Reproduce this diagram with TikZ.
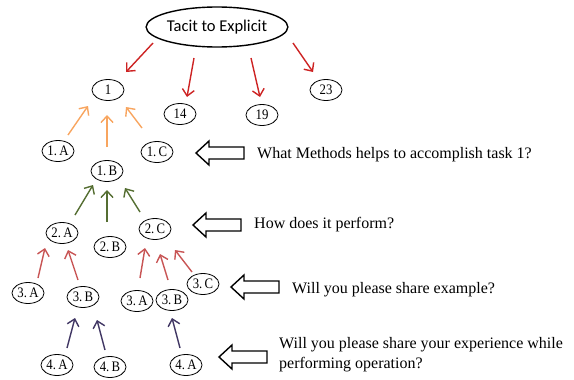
\documentclass[tikz,border=0pt]{standalone}
\usepackage{fontspec}
\setmainfont{Liberation Serif}
\newfontfamily\calib{Carlito}
\newfontfamily\nodefont[FakeStretch=0.88]{Liberation Serif}
\usetikzlibrary{arrows.meta,shapes.geometric,calc}
\definecolor{topred}{RGB}{205,35,35}
\definecolor{orng}{RGB}{248,165,95}
\definecolor{grn}{RGB}{85,110,50}
\definecolor{mred}{RGB}{200,85,85}
\definecolor{purp}{RGB}{65,55,100}
\begin{document}
\begin{tikzpicture}[x=1pt,y=-1pt,
  nd/.style={ellipse, draw, line width=0.8pt, minimum width=32pt, minimum height=21pt, inner sep=0pt, font=\nodefont\fontsize{14.5}{14.5}\selectfont},
  con/.style={line width=1.4pt, -{Straight Barb[length=6.5pt,width=12pt]}},
  qtext/.style={anchor=west, inner sep=0pt, font=\fontsize{16}{20}\selectfont, align=left},
  harrow/.pic={\draw[line width=1.4pt, line join=miter] (0,0) -- (13,-12) -- (13,-6) -- (48,-6) -- (48,6) -- (13,6) -- (13,12) -- cycle;}
]
\useasboundingbox (0,0) rectangle (574,380);
% top node
\node[ellipse, draw, line width=1.4pt, minimum width=141pt, minimum height=40pt, inner sep=0pt, font=\calib\fontsize{16.5}{16.5}\selectfont] (T) at (217,27) {Tacit to Explicit};
% level nodes
\node[nd] (n1) at (108,90) {1};
\node[nd] (n14) at (180,114) {14};
\node[nd] (n19) at (262,115) {19};
\node[nd] (n23) at (326,90) {23};
\node[nd] (a1) at (58,151) {1.\,A};
\node[nd] (b1) at (107,171) {1.\,B};
\node[nd] (c1) at (157,152) {1.\,C};
\node[nd] (a2) at (62,233) {2.\,A};
\node[nd] (b2) at (110,247) {2.\,B};
\node[nd] (c2) at (155,229) {2.\,C};
\node[nd] (a3) at (28,293) {3.\,A};
\node[nd] (b3) at (83,297) {3.\,B};
\node[nd] (a3r) at (137,301) {3.\,A};
\node[nd] (b3r) at (172,300) {3.\,B};
\node[nd] (c3) at (203,284) {3.\,C};
\node[nd] (a4) at (57,365) {4.\,A};
\node[nd] (b4) at (110,367) {4.\,B};
\node[nd] (a4r) at (186,365) {4.\,A};
% top red arrows
\draw[con, topred] ($(T)+(-64,16)$) -- ($(n1)+(18,-18)$);
\draw[con, topred] ($(T)+(-23,31)$) -- ($(n14)+(7,-17)$);
\draw[con, topred] ($(T)+(34,31)$) -- ($(n19)+(-2,-18)$);
\draw[con, topred] ($(T)+(76,16)$) -- ($(n23)+(-13,-18)$);
% orange
\draw[con, orng] ($(a1)+(10,-16)$) -- ($(n1)+(-20,16)$);
\draw[con, orng] ($(b1)+(0,-24)$) -- ($(n1)+(-1,25)$);
\draw[con, orng] ($(c1)+(-15,-24)$) -- ($(n1)+(18,17)$);
% green
\draw[con, grn] ($(a2)+(13,-18)$) -- ($(b1)+(-14,14)$);
\draw[con, grn] ($(b2)+(-3,-25)$) -- ($(b1)+(0,19)$);
\draw[con, grn] ($(c2)+(-15,-17)$) -- ($(b1)+(18,17)$);
% red level 3
\draw[con, mred] ($(a3)+(10,-15)$) -- ($(a2)+(-17,15)$);
\draw[con, mred] ($(b3)+(-5,-17)$) -- ($(a2)+(6,17)$);
\draw[con, mred] ($(a3r)+(3,-23)$) -- ($(c2)+(-10,19)$);
\draw[con, mred] ($(b3r)+(-4,-20)$) -- ($(c2)+(5,25)$);
\draw[con, mred] ($(c3)+(-11,-12)$) -- ($(c2)+(20,21)$);
% purple
\draw[con, purp] ($(a4)+(10,-17)$) -- ($(b3)+(-8,21)$);
\draw[con, purp] ($(b4)+(-5,-17)$) -- ($(b3)+(14,23)$);
\draw[con, purp] ($(a4r)+(-6,-17)$) -- ($(b3r)+(0,18)$);
% hollow arrows
\pic at (196,153) {harrow};
\pic at (193,225) {harrow};
\pic at (231,287) {harrow};
\pic at (219,357) {harrow};
% questions
\node[qtext] (q1) at (257,155) {What Methods helps to accomplish task 1?};
\node[qtext] (q2) at (254,225) {How does it perform?};
\node[qtext] (q3) at (292,290) {Will you please share example?};
\node[qtext] (q4) at (279,355) {Will you please share your experience while\\performing operation?};
\end{tikzpicture}
\end{document}
